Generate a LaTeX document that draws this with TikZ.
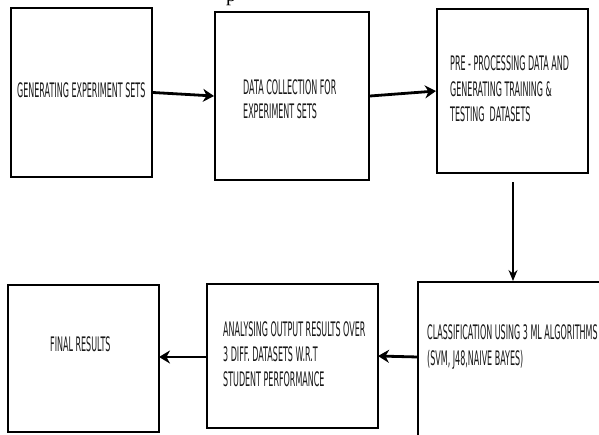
\documentclass[tikz,border=0pt]{standalone}
\usepackage{fontspec}
\newfontfamily\boxfont[FakeStretch=0.4]{DejaVu Sans}
\newfontfamily\capfont{Liberation Serif}
\usetikzlibrary{arrows.meta}
\tikzset{
  stepbox/.style={draw=black, line width=2pt, minimum width=#1, inner sep=0pt},
  lbl/.style={anchor=base west, inner sep=0pt, text=black!90, font={\boxfont\fontsize{20}{24}\selectfont}},
  thickarrow/.style={line width=2.8pt, -{Stealth[length=11pt,width=13pt]}},
  thinarrow/.style={line width=1.4pt, -{Stealth[length=11pt,width=9pt]}},
}
\begin{document}
\begin{tikzpicture}[x=1pt,y=-1pt]
\clip (0,0) rectangle (599,434);
\fill[white] (0,0) rectangle (599,434);
% caption fragment
\node[anchor=base, inner sep=0pt, font={\capfont\fontsize{20}{24}\selectfont}] (cap) at (231,1) {p};
% boxes
\node[stepbox=141pt, minimum height=169pt] (b1) at (81.5,92.5) {};
\node[stepbox=154pt, minimum height=168pt] (b2) at (292,96) {};
\node[stepbox=151pt, minimum height=164pt] (b3) at (512.5,91) {};
\node[stepbox=222pt, minimum height=188pt] (b4) at (529,376) {};
\node[stepbox=171pt, minimum height=144pt] (b5) at (292.5,356) {};
\node[stepbox=151pt, minimum height=147pt] (b6) at (83.5,358.5) {};
% texts
\node[lbl] (t1) at (17,97) {GENERATING EXPERIMENT SETS};
\node[lbl] (t2a) at (243,94) {DATA COLLECTION FOR};
\node[lbl] (t2b) at (243,118) {EXPERIMENT SETS};
\node[lbl] (t3a) at (450,70) {PRE - PROCESSING DATA AND};
\node[lbl] (t3b) at (450,96) {GENERATING TRAINING \&};
\node[lbl] (t3c) at (450,121) {TESTING\ \ DATASETS};
\node[lbl] (t4a) at (427,339) {CLASSIFICATION USING 3 ML ALGORITHMS};
\node[lbl] (t4b) at (427,365) {(SVM, J48,NAIVE BAYES)};
\node[lbl] (t5a) at (223,336) {ANALYSING OUTPUT RESULTS OVER};
\node[lbl] (t5b) at (223,361) {3 DIFF. DATASETS W.R.T};
\node[lbl] (t5c) at (223,386) {STUDENT PERFORMANCE};
\node[lbl] (t6) at (50,351) {FINAL RESULTS};
% connectors
\coordinate (a3s) at (513,182);
\coordinate (a4s) at (418,357);
\coordinate (a4e) at (378,356);
\coordinate (a5s) at (207,357);
\coordinate (a5e) at (159,357);
\draw[thickarrow] (b1.east) -- (b2.west);
\draw[thickarrow] (b2.east) -- (b3.west);
\draw[thinarrow] (a3s) -- (a3s |- b4.north);
\draw[thickarrow] (a4s) -- (a4e);
\draw[thickarrow] (a5s) -- (a5e);
\end{tikzpicture}
\end{document}
